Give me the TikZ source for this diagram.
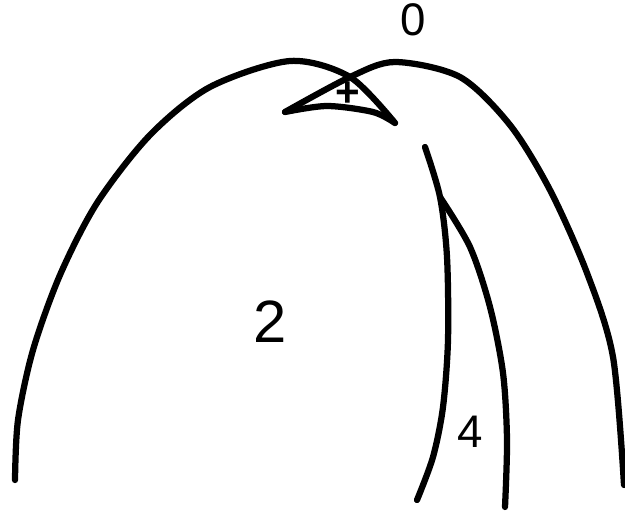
\documentclass[tikz,border=0pt]{standalone}
\usepackage{fontspec}
\setmainfont{Liberation Sans}
\tikzset{
  stroke/.style={line width=0.125cm, line cap=round, line join=round},
  region/.style={inner sep=0pt, font=\fontsize{26}{26}\selectfont}
}
\begin{document}
\begin{tikzpicture}[x=0.02cm, y=-0.02cm]
    % Frame of the picture, in pixel units
    \useasboundingbox (0, 0) rectangle (625, 514);

    % Key points
    \coordinate (ltip) at (285, 112);
    \coordinate (rtip) at (395, 123);
    \coordinate (top) at (425, 147);
    \coordinate (split) at (440, 197);

    % Left arch, ending at the right tip of the small triangle
    \draw[stroke] plot[smooth] coordinates {
      (15, 480) (18, 420) (33, 350) (60, 275) (97, 203)
      (150, 135) (210, 87) (290, 61) (350, 77) (395, 123)};

    % Right arch, starting at the left tip of the small triangle
    \draw[stroke] plot[smooth] coordinates {
      (285, 112) (350, 77) (395, 62)
      (460, 77) (510, 125) (550, 190) (587, 273) (613, 357) (624, 485)};

    % Lower edge of the small triangle
    \draw[stroke] plot[smooth] coordinates {
      (285, 112) (327, 106) (373, 112) (395, 123)};

    % Inner curves: one stroke, and a branch leaving it
    \draw[stroke] plot[smooth] coordinates {
      (425, 147) (440, 197) (447, 257) (448, 340) (443, 407) (433, 457) (417, 500)};
    \draw[stroke] plot[smooth] coordinates {
      (440, 197) (470, 247) (490, 307) (503, 373) (507, 440) (505, 507)};

    % Region labels
    \node[region] (zero) at (413, 20) {0};
    \node[region, font=\bfseries\fontsize{24}{24}\selectfont] (plus) at (348, 94) {+};
    \node[region, font=\fontsize{34}{34}\selectfont] (two) at (270, 322) {2};
    \node[region] (four) at (470, 432) {4};
\end{tikzpicture}
\end{document}
